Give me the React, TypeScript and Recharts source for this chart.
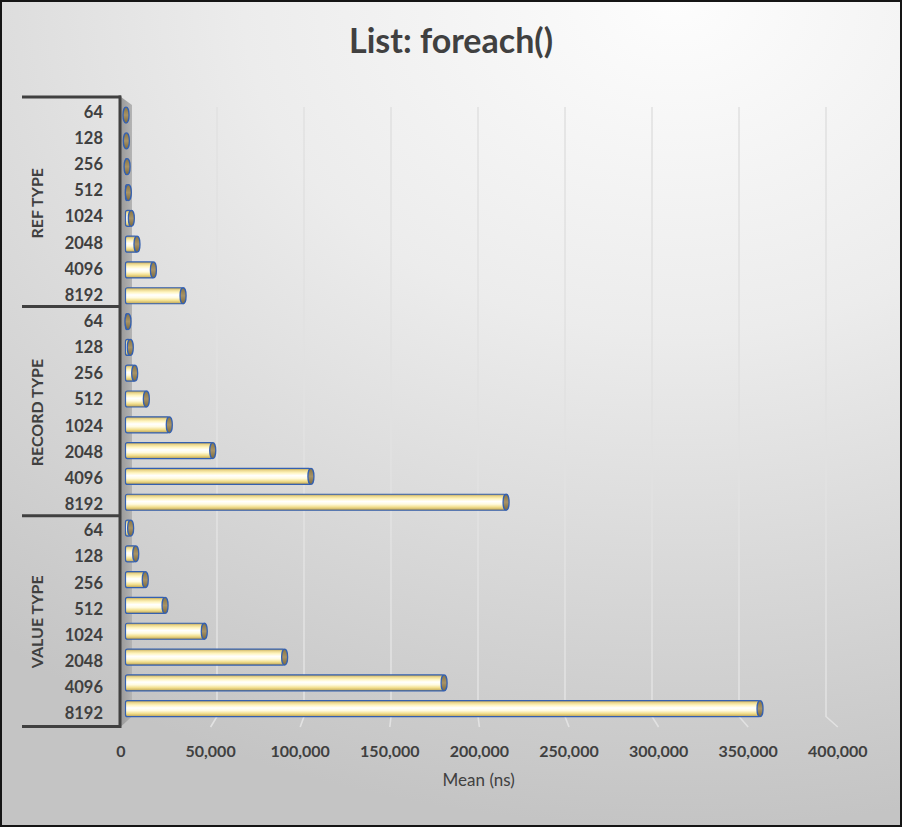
import React from 'react'
import { BarChart, Bar, XAxis, YAxis, CartesianGrid } from 'recharts'

// ── Data ────────────────────────────────────────────────────────────────────
const sizes = ['64', '128', '256', '512', '1024', '2048', '4096', '8192']
const groups = ['REF TYPE', 'RECORD TYPE', 'VALUE TYPE']

// mean time in ns
const refType = [300, 500, 900, 1600, 3300, 6500, 15800, 32600]
const recordType = [1400, 2700, 5200, 11800, 24800, 49400, 105000, 215500]
const valueType = [2900, 5800, 11200, 22400, 44600, 90100, 180400, 359300]

const xTicks = [0, 50000, 100000, 150000, 200000, 250000, 300000, 350000, 400000]

const seriesByGroup = [refType, recordType, valueType]
const rows = groups.flatMap((g, gi) =>
  sizes.map((s, si) => ({ id: `${g}|${s}`, group: g, gi, si, size: s, mean: seriesByGroup[gi][si] })),
)

// ── Geometry ────────────────────────────────────────────────────────────────
const W = 902
const H = 827
const PLOT_LEFT = 125.5
const PLOT_W = 706.4
const PLOT_TOP = 102.1
const PLOT_H = 619.4
const YAXIS_W = 100
const XAXIS_H = 40
const BAND = PLOT_H / rows.length
const LABEL_BAND = 26.16

const TEXT = '#404040'
const FONT = 'Lato, "Open Sans", sans-serif'
const OUTLINE = '#3460b0'

// the 3D plot: labels sit on the front edge, gridlines on the back wall
const xFront = (x: number) => 121 + ((x - PLOT_LEFT) * 89.6) / 88.3
const xBack = (x: number) => 130 + ((x - PLOT_LEFT) * 87) / 88.3
const yLabel = (y: number) => 111.7 + ((y - (PLOT_TOP + BAND / 2)) * LABEL_BAND) / BAND

// ── Axis ticks ──────────────────────────────────────────────────────────────
function SizeTick({ x, y, payload }: any) {
  const row = rows.find((r) => r.id === payload.value)
  if (!row) return null
  const ly = yLabel(y)
  const top = ly - LABEL_BAND / 2
  return (
    <g>
      <text x={x - 22.5} y={ly} textAnchor="end" dominantBaseline="central"
        fontFamily={FONT} fontWeight={700} fontSize={16.5} fill={TEXT}>
        {row.size}
      </text>
      {row.si === 0 && (
        <>
          <line x1={22} x2={121} y1={top - 1.5} y2={top - 1.5} stroke={TEXT} strokeWidth={3} />
          <text
            x={37}
            y={top + LABEL_BAND * 4}
            transform={`rotate(-90 37 ${top + LABEL_BAND * 4})`}
            textAnchor="middle"
            dominantBaseline="central"
            fontFamily={FONT}
            fontWeight={700}
            fontSize={16}
            fill={TEXT}
          >
            {row.group}
          </text>
        </>
      )}
      {row.gi === groups.length - 1 && row.si === sizes.length - 1 && (
        <line x1={22} x2={121} y1={ly + LABEL_BAND / 2} y2={ly + LABEL_BAND / 2} stroke={TEXT} strokeWidth={3} />
      )}
    </g>
  )
}

function MeanTick({ x, y, payload }: any) {
  return (
    <text x={xFront(x)} y={y + 29.4} textAnchor="middle" dominantBaseline="central"
      fontFamily={FONT} fontWeight={700} fontSize={16} fill={TEXT}>
      {Number(payload.value).toLocaleString('en-US')}
    </text>
  )
}

// gridlines on the back wall, slanting across the floor; the zero line becomes the side wall
function GridLine(p: any) {
  const { x1, y1, y2 } = p
  if (x1 < PLOT_LEFT + 1) {
    const xf = xFront(x1)
    const xb = xBack(x1) + 2
    return (
      <g key={p.key ?? 'wall'}>
        <polygon points={`${xf},${y1 - 5} ${xb},${y1 + 3} ${xb},${y2 - 5} ${xf},${y2 + 5}`} fill="url(#wall)" />
        <line x1={xf - 1} x2={xf - 1} y1={y1 - 6.5} y2={y2 + 6.5} stroke={TEXT} strokeWidth={3} />
      </g>
    )
  }
  const xb = xBack(x1)
  return (
    <path
      key={p.key ?? `g${x1}`}
      d={`M${xb},${y1 + 5} L${xb},${y2 - 5} L${xFront(x1)},${y2 + 5.5}`}
      fill="none"
      stroke="#e2e2e2"
      strokeWidth={1.6}
    />
  )
}

// ── Cylinder bar ────────────────────────────────────────────────────────────
function Cylinder({ x, y, width, height }: any) {
  const w = Math.max(width ?? 0, 0)
  return (
    <g>
      {w > 1 && (
        <rect x={x} y={y} width={w} height={height} rx={2} fill="url(#cyl)" stroke={OUTLINE} strokeWidth={1.2} />
      )}
      <ellipse cx={x + w} cy={y + height / 2} rx={3} ry={height / 2} fill="url(#cap)" stroke={OUTLINE} strokeWidth={1.3} />
    </g>
  )
}

export default function App() {
  return (
    <div
      style={{
        position: 'absolute',
        left: 0,
        top: 0,
        width: W,
        height: H,
        background: 'radial-gradient(ellipse 120% 100% at 75% 0%, #fdfdfd 0%, #ececec 40%, #c4c4c4 100%)',
        boxShadow: 'inset 0 0 0 2px #151515',
      }}
    >
      <div
        style={{
          position: 'absolute',
          top: 20,
          left: 0,
          width: W,
          height: 40,
          lineHeight: '40px',
          textAlign: 'center',
          fontFamily: FONT,
          fontWeight: 700,
          fontSize: 34,
          color: TEXT,
        }}
      >
        List: foreach()
      </div>
      <BarChart
        width={W}
        height={H}
        data={rows}
        layout="vertical"
        barSize={16}
        margin={{
          top: PLOT_TOP,
          bottom: H - PLOT_TOP - PLOT_H - XAXIS_H,
          left: PLOT_LEFT - YAXIS_W,
          right: W - PLOT_LEFT - PLOT_W,
        }}
        style={{ position: 'absolute', left: 0, top: 0 }}
      >
        <defs>
          <linearGradient id="cyl" x1="0" y1="0" x2="0" y2="1">
            <stop offset="0%" stopColor="#b59c55" />
            <stop offset="12%" stopColor="#ead68c" />
            <stop offset="28%" stopColor="#fff5c0" />
            <stop offset="45%" stopColor="#ffffff" />
            <stop offset="62%" stopColor="#fffbe0" />
            <stop offset="80%" stopColor="#f2df8e" />
            <stop offset="92%" stopColor="#d2bb6c" />
            <stop offset="100%" stopColor="#a08845" />
          </linearGradient>
          <linearGradient id="cap" x1="0" y1="0" x2="0" y2="1">
            <stop offset="0%" stopColor="#8a7642" />
            <stop offset="50%" stopColor="#a89366" />
            <stop offset="100%" stopColor="#7c6a3c" />
          </linearGradient>
          <linearGradient id="wall" x1="0" y1="0" x2="1" y2="0">
            <stop offset="0%" stopColor="#9a9a9a" />
            <stop offset="100%" stopColor="#b4b4b4" />
          </linearGradient>
        </defs>
        <CartesianGrid horizontal={false} vertical={GridLine} />
        <XAxis
          type="number"
          domain={[0, 400000]}
          ticks={xTicks}
          height={XAXIS_H}
          axisLine={false}
          tickLine={false}
          tickSize={0}
          tickMargin={0}
          tick={<MeanTick />}
          interval={0}
          label={{ value: 'Mean (ns)', position: 'bottom', offset: 12, fill: TEXT, fontSize: 17, fontFamily: FONT }}
        />
        <YAxis
          type="category"
          dataKey="id"
          width={YAXIS_W}
          axisLine={false}
          tickLine={false}
          tickSize={0}
          tickMargin={0}
          tick={<SizeTick />}
          interval={0}
        />
        <Bar dataKey="mean" shape={<Cylinder />} isAnimationActive={false} />
      </BarChart>
    </div>
  )
}
